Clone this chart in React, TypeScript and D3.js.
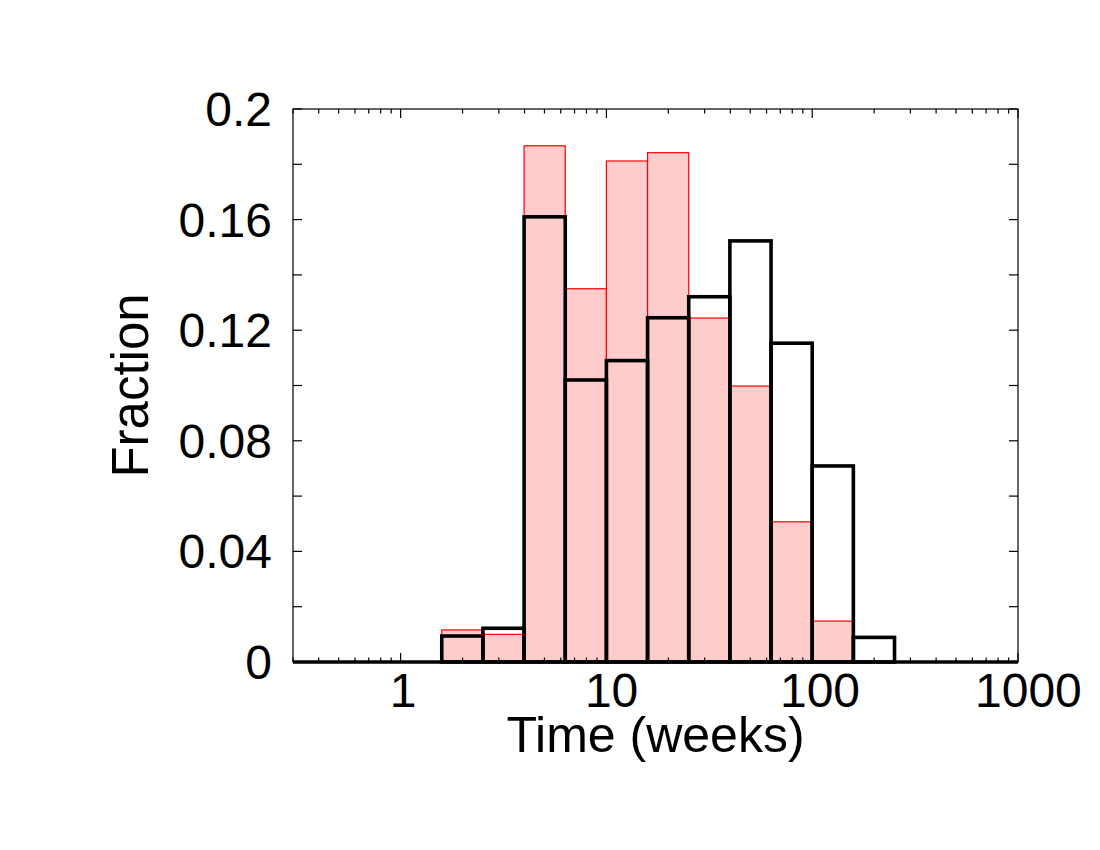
import { useEffect, useRef } from "react";
import * as d3 from "d3";

// bin edges in log10(weeks): 10^0.2 ... 10^2.4
const binEdges = [0.2, 0.4, 0.6, 0.8, 1.0, 1.2, 1.4, 1.6, 1.8, 2.0, 2.2, 2.4].map((e) => Math.pow(10, e));

// fraction per bin (filled red histogram)
const redValues = [0.0116, 0.01, 0.1867, 0.135, 0.1812, 0.1842, 0.1244, 0.0998, 0.0507, 0.0148, 0];
// fraction per bin (black outline histogram)
const blackValues = [0.0094, 0.0122, 0.161, 0.102, 0.109, 0.1245, 0.1321, 0.1523, 0.1153, 0.0709, 0.0089];

const yTicks = [0, 0.02, 0.04, 0.06, 0.08, 0.1, 0.12, 0.14, 0.16, 0.18, 0.2];
const yLabels = ["0", "0.04", "0.08", "0.12", "0.16", "0.2"];
const xMajor = [1, 10, 100, 1000];
const xLabels = ["1", "10", "100", "1000"];

const App = () => {
  const svgRef = useRef(null);

  const width = 1100;
  const height = 850;
  const left = 293;
  const right = 1018;
  const top = 109;
  const bottom = 662;
  const font = "'Liberation Sans', Arial, Helvetica, sans-serif";

  useEffect(() => {
    document.body.style.margin = "0";
    const svg = d3.select(svgRef.current);
    svg.selectAll("*").remove(); // clear

    const x = d3.scaleLog().domain([0.3, 1000]).range([left, right]);
    const y = d3.scaleLinear().domain([0, 0.2]).range([bottom, top]);

    const bins = redValues.map((_, i) => ({ x0: binEdges[i], x1: binEdges[i + 1] }));

    // red filled bars
    svg
      .append("g")
      .selectAll("rect")
      .data(bins.filter((_, i) => redValues[i] > 0))
      .enter()
      .append("rect")
      .attr("x", (d) => x(d.x0))
      .attr("y", (d) => y(redValues[bins.indexOf(d)]))
      .attr("width", (d) => x(d.x1) - x(d.x0))
      .attr("height", (d) => y(0) - y(redValues[bins.indexOf(d)]))
      .attr("fill", "#ffcccc")
      .attr("stroke", "#ff0000")
      .attr("stroke-width", 1.2);

    // frame
    svg
      .append("rect")
      .attr("x", left)
      .attr("y", top)
      .attr("width", right - left)
      .attr("height", bottom - top)
      .attr("fill", "none")
      .attr("stroke", "black")
      .attr("stroke-width", 1.2);

    // y ticks, both sides
    const g = svg.append("g").attr("stroke", "black").attr("stroke-width", 1.2);
    yTicks.forEach((t) => {
      g.append("line").attr("x1", left).attr("x2", left + 9).attr("y1", y(t)).attr("y2", y(t));
      g.append("line").attr("x1", right).attr("x2", right - 9).attr("y1", y(t)).attr("y2", y(t));
    });

    // x ticks, major + minor, top and bottom
    const minor: number[] = [];
    [0.1, 1, 10, 100].forEach((dec) => {
      for (let k = 2; k <= 9; k++) {
        const v = dec * k;
        if (v >= 0.3 && v <= 1000) minor.push(v);
      }
    });
    xMajor.forEach((t) => {
      g.append("line").attr("x1", x(t)).attr("x2", x(t)).attr("y1", bottom).attr("y2", bottom - 9);
      g.append("line").attr("x1", x(t)).attr("x2", x(t)).attr("y1", top).attr("y2", top + 9);
    });
    minor.forEach((t) => {
      g.append("line").attr("x1", x(t)).attr("x2", x(t)).attr("y1", bottom).attr("y2", bottom - 4.5);
      g.append("line").attr("x1", x(t)).attr("x2", x(t)).attr("y1", top).attr("y2", top + 4.5);
    });

    // black outline histogram with thick baseline
    svg
      .append("line")
      .attr("x1", left)
      .attr("x2", right)
      .attr("y1", y(0))
      .attr("y2", y(0))
      .attr("stroke", "black")
      .attr("stroke-width", 3.6);

    svg
      .append("g")
      .selectAll("rect")
      .data(bins)
      .enter()
      .append("rect")
      .attr("x", (d) => x(d.x0))
      .attr("y", (d, i) => y(blackValues[i]))
      .attr("width", (d) => x(d.x1) - x(d.x0))
      .attr("height", (d, i) => y(0) - y(blackValues[i]))
      .attr("fill", "none")
      .attr("stroke", "black")
      .attr("stroke-width", 3.6);

    // tick labels
    svg
      .append("g")
      .selectAll("text")
      .data(yLabels)
      .enter()
      .append("text")
      .attr("x", 272)
      .attr("y", (d) => y(+d) + 17)
      .attr("text-anchor", "end")
      .attr("font-family", font)
      .attr("font-size", 48)
      .text((d) => d);

    svg
      .append("g")
      .selectAll("text")
      .data(xLabels)
      .enter()
      .append("text")
      .attr("x", (d) => x(+d) + 2.6 * d.length)
      .attr("y", 707)
      .attr("text-anchor", "middle")
      .attr("font-family", font)
      .attr("font-size", 48)
      .text((d) => d);

    // axis titles
    svg
      .append("text")
      .attr("x", (left + right) / 2)
      .attr("y", 752)
      .attr("text-anchor", "middle")
      .attr("font-family", font)
      .attr("font-size", 50)
      .text("Time (weeks)");

    svg
      .append("text")
      .attr("transform", `translate(148, ${(top + bottom) / 2}) rotate(-90)`)
      .attr("text-anchor", "middle")
      .attr("font-family", font)
      .attr("font-size", 51)
      .text("Fraction");
  }, []);

  return <svg ref={svgRef} width={width} height={height} style={{ display: "block", background: "white" }}></svg>;
};

export default App;
